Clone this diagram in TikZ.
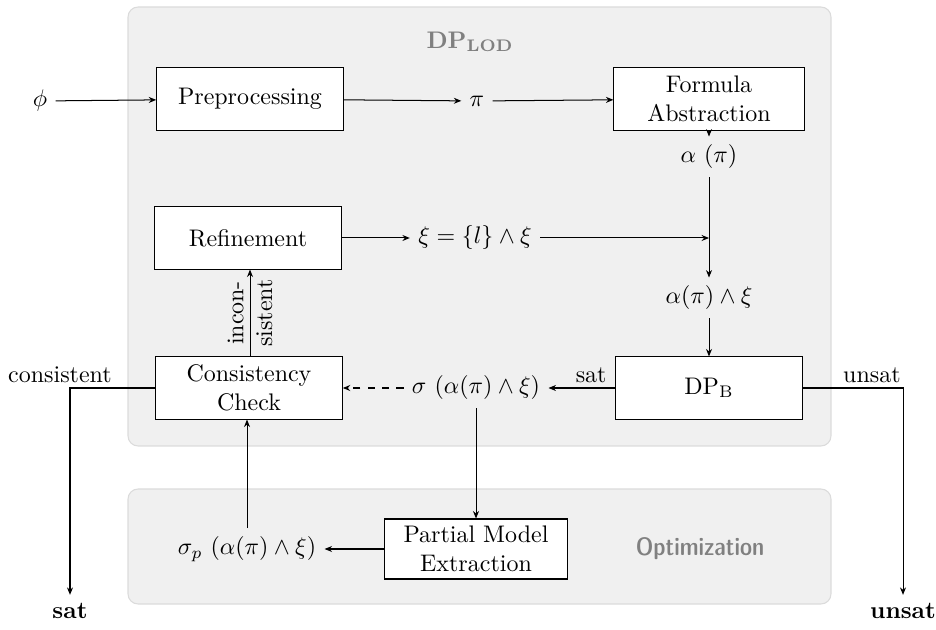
\documentclass[tikz,border=0pt]{standalone}
\usepackage{fontspec}
\newfontfamily\optfont{lmsansdemicond10-regular.otf}
\usetikzlibrary{arrows.meta}
\begin{document}
\begin{tikzpicture}[x=0.417pt,y=-0.417pt,
  panel/.style={draw=black!14,fill=black!6,rounded corners=4.2pt,line width=0.45pt},
  stagebox/.style={draw=black,fill=white,line width=0.45pt,minimum width=77.8pt,minimum height=25.9pt,align=center,inner sep=2pt},
  arr/.style={-{Stealth[length=3.1pt,width=2.5pt]},line width=0.42pt},
  paneltitle/.style={text=black!50,font=\bfseries}]
\useasboundingbox (0,0) rectangle (936,630);

% background panels
\draw[panel] (128,7) rectangle (831,446);
\draw[panel] (128,489) rectangle (831,604);
\node[paneltitle] (ttl) at (470,42) {DP\textsubscript{LOD}};
\node[paneltitle,font=\optfont\fontsize{10.5}{12}\selectfont] (opt) at (700,549) {Optimization};

% processing stages
\node[stagebox] (pre) at (250,99) {Preprocessing};
\node[stagebox,minimum width=79.3pt] (fa) at (709,99) {Formula\\Abstraction};
\node[stagebox] (ref) at (248,238) {Refinement};
\node[stagebox] (cc) at (249,388) {Consistency\\Check};
\node[stagebox] (dpb) at (709,388) {$\mathrm{DP_B}$};
\node[stagebox,minimum width=76pt,minimum height=25pt] (pme) at (476,549) {Partial Model\\Extraction};

% intermediate formulas
\node (phi) at (40,101) {$\phi$};
\node (pi) at (477,101) {$\pi$};
\node (al) at (709,157) {$\alpha\ (\pi)$};
\node (xi) at (475,238) {$\xi = \{l\} \land \xi$};
\coordinate (j) at (709,238);
\node (alx) at (709,298) {$\alpha(\pi) \land \xi$};
\node (sig) at (476,388) {$\sigma\ (\alpha(\pi) \land \xi)$};
\node (sigp) at (247,549) {$\sigma_p\ (\alpha(\pi) \land \xi)$};

% results
\node (sat) at (70,611) {\textbf{sat}};
\node (unsat) at (903,611) {\textbf{unsat}};

% connectors
\draw[arr] (phi) -- (pre);
\draw[arr] (pre) -- (pi);
\draw[arr] (pi) -- (fa);
\draw[arr] (fa) -- (al);
\draw[arr] (al) -- (alx);
\draw[arr] (ref) -- (xi);
\draw[arr] (xi) -- (j);
\draw[arr] (alx) -- (dpb);
\draw[arr] (dpb) -- node[above,pos=0.36,inner sep=2pt] {sat} (sig);
\draw[arr,dashed] (sig) -- (cc);
\draw[arr] (sig) -- (pme);
\draw[arr] (pme) -- (sigp);
\draw[arr] (sigp) -- (sigp |- cc.south);
\draw[arr] (cc.north -| 250,0) -- node[rotate=90,align=center,inner sep=0pt] {incon-\\sistent} (ref.south -| 250,0);
\draw[arr] (cc.west) -| node[above,pos=0.5,xshift=-4.2pt,inner sep=2pt] {consistent} (sat);
\draw[arr] (dpb.east) -| node[above,pos=0.345,inner sep=2pt] {unsat} (unsat);
\end{tikzpicture}
\end{document}
